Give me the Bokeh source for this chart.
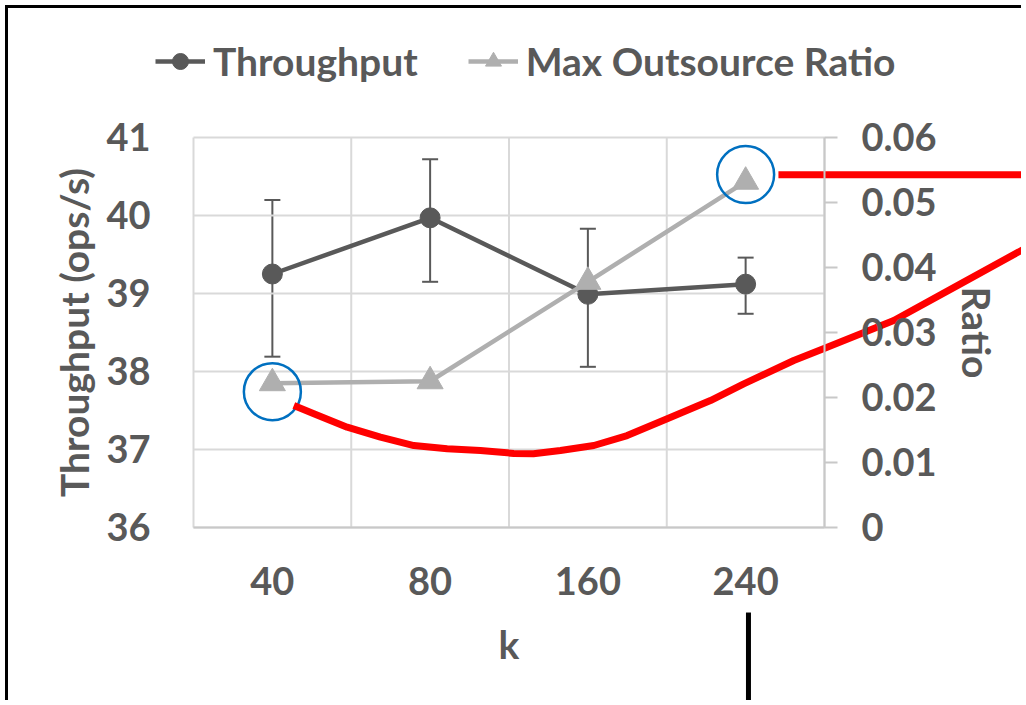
from bokeh.plotting import figure
from bokeh.models import (Range1d, LinearAxis, FixedTicker, Legend, LegendItem, Whisker,
                          ColumnDataSource, TeeHead, CustomJSTickFormatter)
from bokeh.embed import file_html
from bokeh.resources import INLINE

# ---- data ----
categories = ["40", "80", "160", "240"]
throughput = [39.25, 39.97, 38.99, 39.12]
throughput_upper = [40.20, 40.72, 39.83, 39.46]
throughput_lower = [38.19, 39.15, 38.06, 38.74]
max_outsource_ratio = [0.0222, 0.0225, 0.0378, 0.0532]
left_ticks = [36, 37, 38, 39, 40, 41]
right_ticks = [0, 0.01, 0.02, 0.03, 0.04, 0.05, 0.06]

# hand-drawn annotation marks (data units of the chart)
circle_k = ["40", "240"]
circle_ratio = [0.0209, 0.0543]
red_curve_x = [0.636, 0.763, 0.974, 1.185, 1.397, 1.608, 1.819, 2.030, 2.155, 2.326, 2.538,
               2.749, 3.003, 3.277, 3.488, 3.805, 4.017, 4.439, 4.862, 5.30]
red_curve_y = [37.564, 37.458, 37.286, 37.158, 37.051, 37.009, 36.987, 36.950, 36.945, 36.987,
               37.051, 37.179, 37.393, 37.628, 37.842, 38.141, 38.312, 38.654, 39.124, 39.61]
red_hline_x = [3.708, 5.30]
red_hline_y = [40.522, 40.522]
black_vline_x = [3.518, 3.518]
black_vline_y = [34.91, 33.50]

TXT = "#595959"
GRID = "#d9d9d9"
AXIS = "#c8c8c8"
LIGHT = "#afafaf"
FONT = "Lato"

W, H = 1016, 695
# frame covers the whole canvas; data area is [0,4] x [36,41]
X0, X1 = -1.1727, 5.2678
Y0, Y1 = 33.7436, 42.6538
R0, R1 = -0.027077, 0.079846

xpos = [categories.index(c) + 0.5 for c in categories]

p = figure(width=W, height=H, x_range=Range1d(X0, X1), y_range=Range1d(Y0, Y1),
           output_backend="svg", toolbar_location=None, min_border=0)
p.styles = {"margin-left": "5px", "margin-top": "5px",
            "border-left": "3px solid black", "border-top": "3px solid black"}
p.extra_y_ranges = {"ratio": Range1d(R0, R1)}
p.background_fill_color = "white"
p.border_fill_color = "white"
p.outline_line_color = None
p.grid.visible = False

# grid lines limited to the data area
gx = [0, 1, 2, 3, 4]
p.segment(x0=gx, y0=[36] * 5, x1=gx, y1=[41] * 5, line_color=GRID, line_width=2)
p.segment(x0=[0] * 6, y0=left_ticks, x1=[4] * 6, y1=left_ticks, line_color=GRID, line_width=2)

# x axis
xa = p.xaxis[0]
xa.fixed_location = 36
xa.bounds = (0, 4)
xa.ticker = FixedTicker(ticks=xpos)
xa.formatter = CustomJSTickFormatter(args=dict(cats=categories), code="return cats[Math.floor(tick)];")
xa.axis_label = "k"
xa.major_tick_in = 0
xa.major_tick_out = 0
xa.minor_tick_line_color = None
xa.axis_line_color = AXIS
xa.axis_line_width = 2
xa.major_label_standoff = 40
xa.axis_label_standoff = 22

# left axis
ya = p.yaxis[0]
ya.fixed_location = 0
ya.bounds = (36, 41)
ya.ticker = FixedTicker(ticks=left_ticks)
ya.axis_label = "Throughput (ops/s)"
ya.major_tick_in = 0
ya.major_tick_out = 0
ya.minor_tick_line_color = None
ya.axis_line_color = None
ya.major_label_standoff = 43
ya.axis_label_standoff = 6

# right axis
ra = LinearAxis(y_range_name="ratio", axis_label="Ratio")
ra.fixed_location = 4
ra.bounds = (0, 0.06)
ra.ticker = FixedTicker(ticks=right_ticks)
ra.formatter = CustomJSTickFormatter(code="return tick == 0 ? '0' : tick.toFixed(2);")
ra.major_tick_in = 0
ra.major_tick_out = 13
ra.major_tick_line_color = AXIS
ra.major_tick_line_width = 2
ra.minor_tick_line_color = None
ra.axis_line_color = AXIS
ra.axis_line_width = 2
ra.major_label_standoff = 24
ra.axis_label_standoff = 14
p.add_layout(ra, "right")

for ax in (xa, ya, ra):
    ax.major_label_text_font = FONT
    ax.major_label_text_font_style = "bold"
    ax.major_label_text_font_size = "38px"
    ax.major_label_text_color = TXT
    ax.axis_label_text_font = FONT
    ax.axis_label_text_font_style = "bold"
    ax.axis_label_text_font_size = "39px"
    ax.axis_label_text_color = TXT

# throughput series
src = ColumnDataSource(dict(x=xpos, y=throughput, upper=throughput_upper, lower=throughput_lower))
wh = Whisker(source=src, base="x", upper="upper", lower="lower",
             line_color=TXT, line_width=2,
             upper_head=TeeHead(size=16, line_color=TXT, line_width=2),
             lower_head=TeeHead(size=16, line_color=TXT, line_width=2))
p.add_layout(wh)
t_line = p.line("x", "y", source=src, line_color=TXT, line_width=4.5)
t_pts = p.scatter("x", "y", source=src, size=20, marker="circle", color=TXT)

# ratio series
rsrc = ColumnDataSource(dict(x=xpos, y=max_outsource_ratio))
r_line = p.line("x", "y", source=rsrc, y_range_name="ratio", line_color=LIGHT, line_width=4.5)
r_pts = p.scatter("x", "y", source=rsrc, y_range_name="ratio", size=26, marker="triangle",
                  color=LIGHT)

# legend
legend = Legend(items=[LegendItem(label="Throughput", renderers=[t_line, t_pts]),
                       LegendItem(label="Max Outsource Ratio", renderers=[r_line, r_pts])],
                orientation="horizontal", location=(147, 619),
                padding=0, margin=0, spacing=50, border_line_color=None,
                background_fill_alpha=0, glyph_width=50, glyph_height=40, label_height=40,
                label_standoff=8,
                label_text_font=FONT, label_text_font_style="bold",
                label_text_font_size="39px", label_text_color=TXT)
p.add_layout(legend, "center")

# annotations
cx = [categories.index(c) + 0.5 for c in circle_k]
p.scatter(cx, circle_ratio, y_range_name="ratio", marker="circle", size=57,
          fill_alpha=0, line_color="#0070c0", line_width=2.5)
p.line(red_curve_x, red_curve_y, line_color="#ff0000", line_width=7, line_join="round")
p.line(red_hline_x, red_hline_y, line_color="#ff0000", line_width=7)
p.line(black_vline_x, black_vline_y, line_color="black", line_width=5)

open("out.html", "w").write(file_html(p, INLINE))
